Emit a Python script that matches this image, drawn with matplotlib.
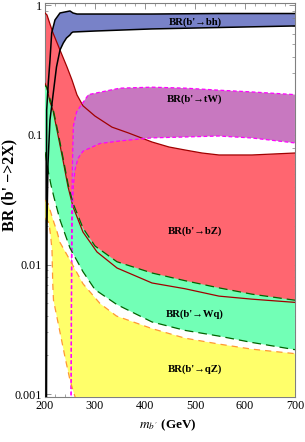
import numpy as np
import matplotlib
matplotlib.use('Agg')
import matplotlib.pyplot as plt
from matplotlib.ticker import MultipleLocator, LogLocator, FixedLocator, FixedFormatter, NullFormatter

plt.rcParams['font.family'] = ['Liberation Serif', 'DejaVu Serif']
plt.rcParams['mathtext.fontset'] = 'stix'

# ---------- b' -> b h ---------- #
bh_up_m = np.array([202, 202.6, 203.0, 203.4, 206.6, 210, 213.4, 220, 230, 240, 250, 256, 264, 414, 548, 700])
bh_up_v = np.array([0.0009, 0.006, 0.04, 0.156, 0.252, 0.379, 0.614, 0.773, 0.875, 0.891, 0.907, 0.875, 0.859, 0.859, 0.867, 0.867])
bh_lo_m = np.array([203.0, 204, 206, 210, 216.6, 223, 230, 236.6, 243, 250, 253, 256, 300, 414, 548, 700])
bh_lo_v = np.array([0.0009, 0.02, 0.06, 0.131, 0.211, 0.335, 0.453, 0.513, 0.561, 0.592, 0.614, 0.624, 0.635, 0.659, 0.676, 0.695])

# ---------- b' -> b Z ---------- #
bz_up_m = np.array([200, 204, 210, 216, 230, 244, 254, 264, 276, 300, 334, 366, 414, 448, 480, 514, 548, 614, 700])
bz_up_v = np.array([0.875, 0.845, 0.719, 0.614, 0.453, 0.335, 0.266, 0.204, 0.168, 0.140, 0.115, 0.104, 0.0883, 0.0808, 0.0766, 0.0726, 0.0701, 0.0701, 0.0726])
bz_lo_m = np.array([200, 204, 210, 216, 226, 236, 246, 256, 276, 304, 344, 414, 480, 548, 614, 700])
bz_lo_v = np.array([0.25, 0.23, 0.18, 0.155, 0.10, 0.064, 0.040, 0.028, 0.0178, 0.0125, 0.0094, 0.0072, 0.0065, 0.0057, 0.0054, 0.0051])

# ---------- b' -> t W ---------- #
tw_up_m = np.array([252, 252.6, 253.4, 255, 256.6, 263, 270, 287, 330, 350, 414, 481, 547, 614, 700])
tw_up_v = np.array([0.0007, 0.005, 0.026, 0.06, 0.116, 0.15, 0.165, 0.205, 0.222, 0.23, 0.234, 0.230, 0.222, 0.215, 0.205])
tw_lo_m = np.array([252, 252.6, 253.2, 254.5, 256.6, 260, 266, 276, 310, 350, 414, 481, 547, 614, 700])
tw_lo_v = np.array([0.0007, 0.0015, 0.005, 0.02, 0.04, 0.054, 0.066, 0.075, 0.086, 0.09, 0.095, 0.0965, 0.0982, 0.0948, 0.0868])

# ---------- b' -> W q ---------- #
wq_up_m = np.array([200, 204, 210, 216, 226, 236, 246, 256, 276, 300, 344, 414, 480, 548, 614, 700])
wq_up_v = np.array([0.243, 0.231, 0.19, 0.16, 0.105, 0.067, 0.042, 0.0298, 0.0191, 0.0139, 0.0105, 0.0086, 0.0075, 0.0066, 0.0059, 0.0053])
wq_lo_m = np.array([200, 206, 212, 218, 230, 250, 276, 300, 344, 414, 480, 548, 614, 700])
wq_lo_v = np.array([0.0739, 0.0537, 0.0411, 0.033, 0.0221, 0.0134, 0.0088, 0.0064, 0.0049, 0.0036, 0.0031, 0.0028, 0.0025, 0.0022])

# ---------- b' -> q Z ---------- #
qz_up_m = np.array([200, 206, 212, 218, 224, 230, 250, 276, 310, 343, 414, 480, 548, 614, 700])
qz_up_v = np.array([0.0315, 0.0295, 0.025, 0.021, 0.018, 0.0148, 0.0108, 0.0071, 0.0050, 0.0040, 0.0032, 0.0027, 0.00243, 0.00222, 0.00205])
qz_lo_m = np.array([200, 208, 211, 214, 215.5, 217, 224, 230, 240, 250, 256, 262, 266, 700])
qz_lo_v = np.array([0.0229, 0.021, 0.017, 0.013, 0.0072, 0.0053, 0.0039, 0.0030, 0.00193, 0.00128, 0.00107, 0.0009, 0.0005, 0.0005])

labels = ["BR(b'\u2192bh)", "BR(b'\u2192tW)", "BR(b'\u2192bZ)", "BR(b'\u2192Wq)", "BR(b'\u2192qZ)"]
label_v = [0.74, 0.19, 0.0182, 0.00415, 0.00156]

fig = plt.figure(figsize=(3.05, 4.42), dpi=100)
ax = fig.add_axes([0.1475, 0.1007, 0.8196, 0.8925])


def band(m_up, v_up, m_lo, v_lo, color, z):
    xs = np.concatenate([m_up, m_lo[::-1]])
    ys = np.concatenate([v_up, v_lo[::-1]])
    ax.fill(xs, ys, color=color, lw=0, zorder=z)


band(bh_up_m, bh_up_v, bh_lo_m, bh_lo_v, '#7882c8', 1)
band(bz_up_m, bz_up_v, bz_lo_m, bz_lo_v, '#ff6670', 2)
band(tw_up_m, tw_up_v, tw_lo_m, tw_lo_v, '#c878c0', 3)
band(wq_up_m, wq_up_v, wq_lo_m, wq_lo_v, '#72ffb6', 4)
band(qz_up_m, qz_up_v, qz_lo_m, qz_lo_v, '#ffff6a', 5)

# ---------- boundaries ---------- #
ax.plot(bz_up_m, bz_up_v, color='#a00000', lw=0.9, zorder=6)
ax.plot(bz_lo_m, bz_lo_v, color='#a00000', lw=0.9, zorder=6)
for m, v in [(tw_up_m, tw_up_v), (tw_lo_m, tw_lo_v)]:
    ax.plot(m, v, color='#ff00ff', lw=0.9, dashes=(3, 2), zorder=7)
for m, v in [(wq_up_m, wq_up_v), (wq_lo_m, wq_lo_v)]:
    ax.plot(m, v, color='#006400', lw=0.9, dashes=(7, 4), zorder=7)
for m, v in [(qz_up_m, qz_up_v), (qz_lo_m, qz_lo_v)]:
    ax.plot(m, v, color='#ff9933', lw=0.9, dashes=(5, 4), zorder=7)
ax.plot(bh_up_m, bh_up_v, color='black', lw=1.1, zorder=8)
ax.plot(bh_lo_m, bh_lo_v, color='black', lw=1.1, zorder=8)

for txt, v in zip(labels, label_v):
    ax.text(500, v, txt, ha='center', va='center', fontsize=7.7,
            fontweight='bold', zorder=9)

# ---------- axes ---------- #
ax.set_yscale('log')
ax.set_xlim(200, 700)
ax.set_ylim(0.00094, 1.045)
ax.xaxis.set_major_locator(MultipleLocator(100))
ax.xaxis.set_minor_locator(MultipleLocator(20))
ax.yaxis.set_major_locator(FixedLocator([0.001, 0.01, 0.1, 1]))
ax.yaxis.set_major_formatter(FixedFormatter(['0.001', '0.01', '0.1', '1']))
ax.yaxis.set_minor_locator(LogLocator(base=10, subs=np.arange(2, 10)))
ax.yaxis.set_minor_formatter(NullFormatter())
ax.tick_params(which='both', direction='in', top=True, right=True,
               color='#808080', labelcolor='black', labelsize=8.7, pad=2)
ax.tick_params(which='major', length=4, width=0.6)
ax.tick_params(which='minor', length=2.2, width=0.5)
for s in ax.spines.values():
    s.set_color('#808080')
    s.set_linewidth(0.8)

ax.set_ylabel("BR (b' \u2212>2X)", fontweight='bold', fontsize=11.5)
ax.yaxis.set_label_coords(-0.112, 0.54)
ax.set_xlabel(r"$m_{b^{\prime}}$ (GeV)", fontweight='bold', fontsize=9.5)
ax.xaxis.set_label_coords(0.49, -0.052)

fig.savefig('out.png', dpi=100)
